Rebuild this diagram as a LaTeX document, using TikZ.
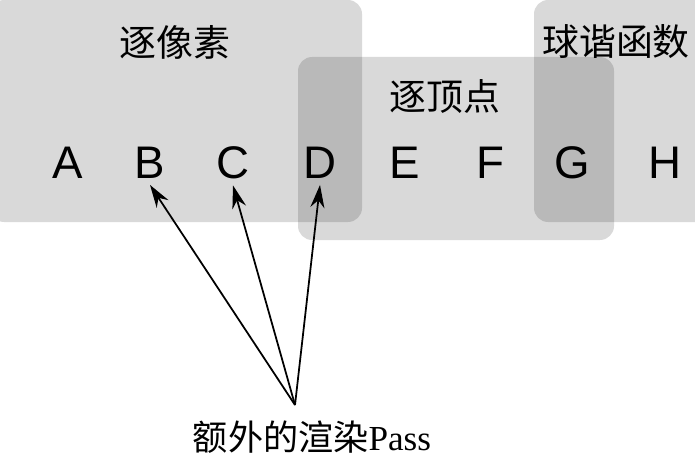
\documentclass[tikz,border=0pt]{standalone}
\usepackage{fontspec}
\setmainfont{Liberation Serif}
\setsansfont{Liberation Sans}
\newfontfamily\cjk{Noto Sans CJK SC}
\usetikzlibrary{positioning,arrows.meta}

\begin{document}
\begin{tikzpicture}[x=0.02cm,y=-0.02cm]

\tikzset{
	region/.style={
		rounded corners=8pt,
		fill=black,
		fill opacity=0.15
	}
}

\tikzset{
	regiontitle/.style={
		font=\cjk\fontsize{21pt}{21pt}\selectfont
	}
}

\tikzset{
	channel/.style={
		font=\sffamily\fontsize{26pt}{26pt}\selectfont
	}
}

\useasboundingbox (0,0) rectangle (695,459);
\clip (0,0) rectangle (695,459);

% regions
\fill[region] (-10,0) rectangle (362,222);
\fill[region] (298,57) rectangle (614,240);
\fill[region] (534,0) rectangle (720,222);

\node[regiontitle] (pixel) at (175,42) {逐像素};
\node[regiontitle] (vertex) at (445,97) {逐顶点};
\node[regiontitle, anchor=west] (sh) at (536,42) {球谐函数};

% letters
\foreach \name/\x in {A/68,B/150,C/233,D/320,E/405,F/490,G/572,H/665}
	\node[channel] (\name) at (\x,163) {\name};

% extra passes
\node[font=\fontsize{20pt}{20pt}\selectfont] (pass) at (312,437) {{\cjk 额外的渲染}Pass};
\coordinate (src) at (295,405);
\foreach \t in {B,C,D}
	\draw[-{Stealth[length=13pt,width=8pt]}, line width=1pt] (src) -- (\t.south);

\end{tikzpicture}
\end{document}
